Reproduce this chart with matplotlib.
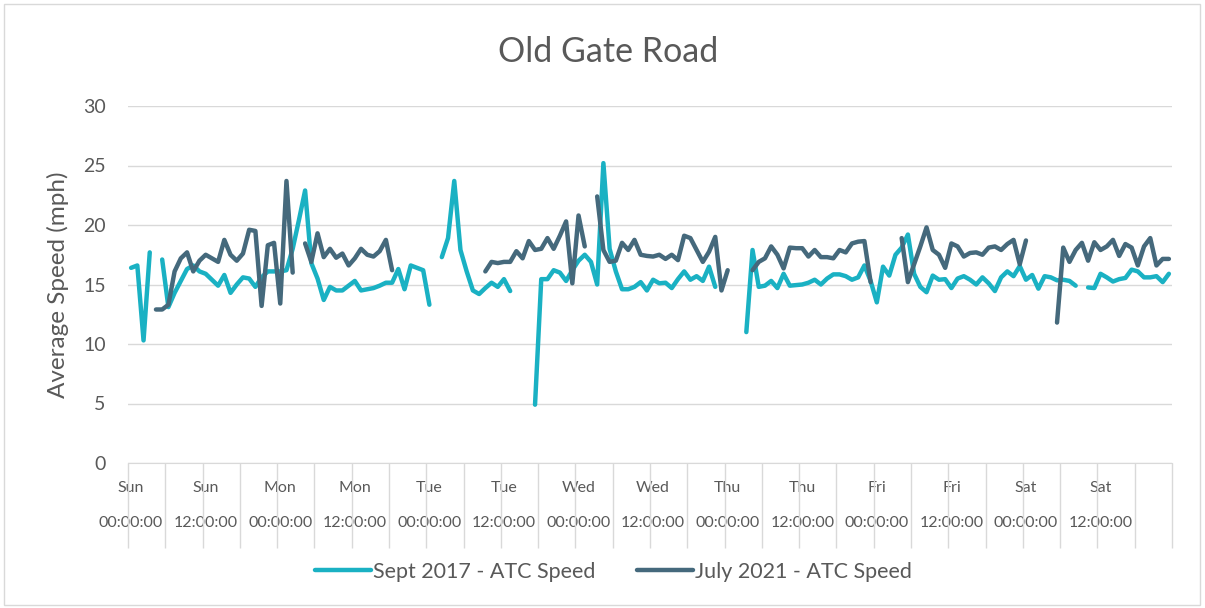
import matplotlib.pyplot as plt
import numpy as np
from matplotlib.patches import Rectangle

nan = np.nan

# hourly averages, one week starting Sunday 00:00 (168 hours)
sept_2017 = [
    16.4, 16.6, 10.3, 17.7, nan, 17.1, 13.1, 14.3, 15.3, 16.3, 16.6, 16.1,
    15.9, 15.4, 14.9, 15.8, 14.3, 15.0, 15.6, 15.5, 14.8, 15.6, 16.1, 16.1,
    16.1, 16.2, 18.0, 20.4, 22.9, 16.8, 15.5, 13.7, 14.8, 14.5, 14.5, 14.9,
    15.3, 14.5, 14.6, 14.7, 14.9, 15.15, 15.15, 16.3, 14.6, 16.6, 16.4, 16.2,
    13.3, nan, 17.3, 18.9, 23.7, 17.9, 16.1, 14.5, 14.2, 14.7, 15.15, 14.8,
    15.45, 14.45, nan, nan, nan, 4.9, 15.45, 15.45, 16.2, 16.0, 15.3, 16.2,
    17.0, 17.5, 16.9, 15.0, 25.2, 18.0, 16.1, 14.6, 14.6, 14.8, 15.2, 14.5,
    15.4, 15.1, 15.15, 14.7, 15.45, 16.1, 15.4, 15.7, 15.3, 16.5, 14.8, nan,
    nan, nan, nan, 11.0, 17.9, 14.8, 14.9, 15.3, 14.7, 15.9, 14.9, 14.95,
    15.0, 15.15, 15.4, 15.0, 15.5, 15.85, 15.85, 15.7, 15.4, 15.6, 16.6, 15.3,
    13.5, 16.5, 15.75, 17.5, 18.1, 19.2, 15.9, 14.8, 14.35, 15.75, 15.4, 15.45,
    14.7, 15.5, 15.7, 15.4, 15.0, 15.6, 15.1, 14.45, 15.6, 16.1, 15.7, 16.55,
    15.4, 15.8, 14.65, 15.7, 15.6, 15.35, 15.4, 15.3, 14.9, nan, 14.75, 14.7,
    15.9, 15.6, 15.25, 15.45, 15.55, 16.25, 16.1, 15.6, 15.6, 15.7, 15.2, 15.9,
]

july_2021 = [
    nan, nan, nan, nan, 12.9, 12.9, 13.3, 16.1, 17.2, 17.7, 16.1, 17.0,
    17.5, 17.2, 16.9, 18.75, 17.5, 17.0, 17.6, 19.6, 19.5, 13.2, 18.3, 18.5,
    13.4, 23.7, 16.0, nan, 18.45, 16.9, 19.3, 17.3, 18.0, 17.25, 17.6, 16.6,
    17.2, 18.0, 17.5, 17.35, 17.8, 18.75, 16.2, nan, nan, nan, nan, nan,
    nan, nan, nan, nan, nan, nan, nan, nan, nan, 16.1, 16.9, 16.8,
    16.9, 16.9, 17.8, 17.2, 18.65, 17.9, 18.0, 18.9, 18.0, 19.1, 20.3, 15.1,
    20.8, 18.2, nan, 22.4, 17.9, 16.9, 17.0, 18.5, 17.9, 18.75, 17.5, 17.4,
    17.35, 17.5, 17.15, 17.5, 17.05, 19.1, 18.9, 17.9, 16.9, 17.75, 19.0, 14.5,
    16.2, nan, nan, nan, 16.2, 16.9, 17.2, 18.2, 17.5, 16.35, 18.1, 18.05,
    18.05, 17.35, 17.9, 17.3, 17.3, 17.2, 17.9, 17.7, 18.45, 18.6, 18.65, 15.2,
    nan, nan, nan, nan, 18.9, 15.2, 16.7, 18.2, 19.8, 17.9, 17.5, 16.4,
    18.45, 18.2, 17.35, 17.65, 17.7, 17.5, 18.1, 18.2, 17.9, 18.4, 18.75, 16.7,
    18.7, nan, nan, nan, nan, 11.8, 18.1, 16.9, 17.9, 18.5, 17.0, 18.55,
    17.9, 18.2, 18.75, 17.4, 18.4, 18.1, 16.6, 18.2, 18.9, 16.6, 17.15, 17.15,
]

days = ["Sun", "Mon", "Tue", "Wed", "Thu", "Fri", "Sat"]
times = ["00:00:00", "12:00:00"]
tick_labels = [f"{d}\n\n{t}" for d in days for t in times]

teal = "#1AB1C3"
slate = "#45697C"
grey_text = "#595959"

plt.rcParams['font.family'] = ['Lato', 'DejaVu Sans']

fig = plt.figure(figsize=(12.05, 6.08), dpi=100)
ax = fig.add_axes([128 / 1205, 1 - 463 / 608, 1044 / 1205, 357 / 608])

hours = np.arange(len(sept_2017))
ax.plot(hours, sept_2017, color=teal, lw=3.2, solid_capstyle='round',
        solid_joinstyle='round', label="Sept 2017 - ATC Speed")
ax.plot(hours, july_2021, color=slate, lw=3.2, solid_capstyle='round',
        solid_joinstyle='round', label="July 2021 - ATC Speed")

ax.set_xlim(-0.5, 167.5)
ax.set_ylim(0, 30)
ax.set_yticks(np.arange(0, 31, 5))
ax.grid(axis='y', color='#D9D9D9', lw=1)
ax.set_axisbelow(True)

ax.set_xticks(np.arange(0, 168, 12))
ax.set_xticklabels(tick_labels, fontsize=11.5, color=grey_text, linespacing=1.3)
ax.set_xticks(np.arange(-0.5, 168, 6), minor=True)
ax.tick_params(axis='x', which='major', length=0, pad=13)
ax.tick_params(axis='x', which='minor', length=61, width=1, color='#D9D9D9')
ax.tick_params(axis='y', length=0, pad=16, labelsize=14, labelcolor=grey_text)

for s in ['top', 'right', 'left']:
    ax.spines[s].set_visible(False)
ax.spines['bottom'].set_color('#D9D9D9')

fig.text(608 / 1205, 1 - 52 / 608, "Old Gate Road", ha='center', va='center',
         fontsize=24.5, color=grey_text)
fig.text(58 / 1205, 1 - 285 / 608, "Average Speed (mph)", ha='center', va='center',
         rotation=90, fontsize=17.5, color=grey_text)

fig.legend(loc='center', bbox_to_anchor=(0.5 + 11 / 1205, 1 - 572 / 608), ncol=2,
           frameon=False, fontsize=15.5, labelcolor=grey_text, handlelength=2.6,
           handletextpad=0.1, columnspacing=1.9)

fig.patches.append(Rectangle((4 / 1205, 3 / 608), 1196 / 1205, 601 / 608,
                             transform=fig.transFigure, fill=False,
                             edgecolor='#D9D9D9', lw=1))

fig.savefig("out.png", dpi=100)
